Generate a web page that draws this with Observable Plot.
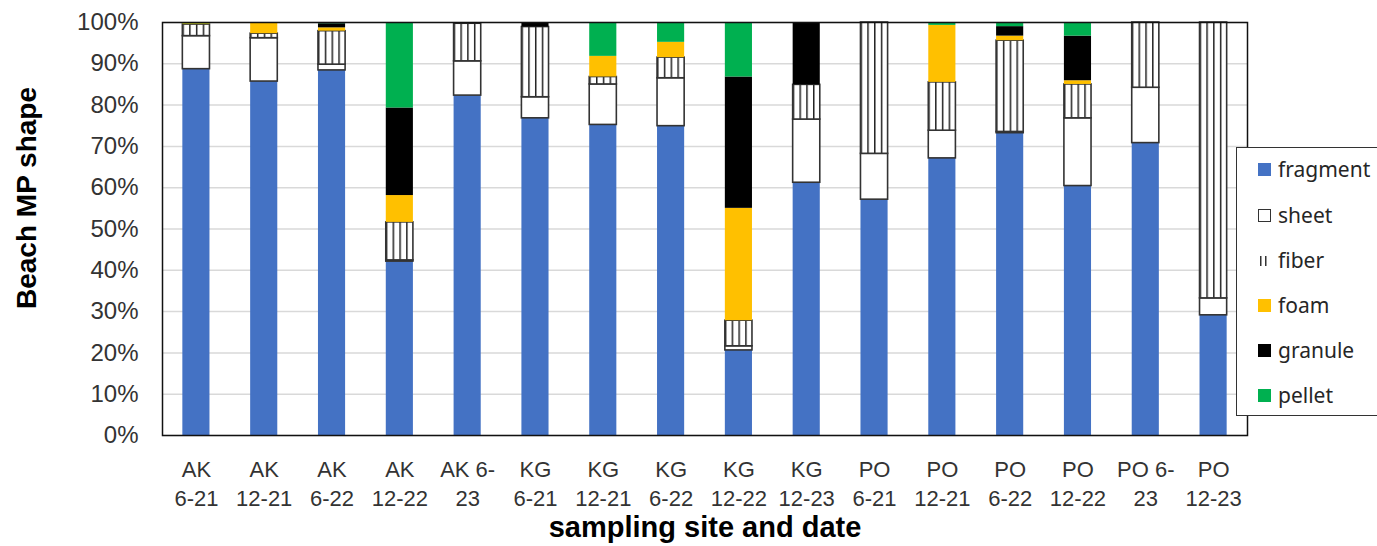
<!DOCTYPE html>
<html><head><meta charset="utf-8">
<script src="https://cdn.jsdelivr.net/npm/d3@7"></script>
<script src="https://cdn.jsdelivr.net/npm/@observablehq/plot@0.6"></script>
<style>
body{margin:0;background:#fff;font-family:"Liberation Sans",Arial,sans-serif;}
#wrap{position:relative;width:1377px;height:546px;overflow:hidden;}
#legend{position:absolute;left:1236px;top:147px;width:150px;height:269px;border:1.5px solid #333;background:#fff;box-sizing:border-box;}
.item{position:absolute;left:21px;height:26px;display:flex;align-items:center;font-size:21px;color:#262626;font-family:"Noto Sans","Liberation Sans",sans-serif;}
.sw{width:13px;height:13px;margin-right:7px;box-sizing:border-box;}
</style></head>
<body><div id="wrap"><div id="legend"></div></div>
<script>
const categories = ["AK 6-21","AK 12-21","AK 6-22","AK 12-22","AK 6-23","KG 6-21","KG 12-21","KG 6-22","KG 12-22","KG 12-23","PO 6-21","PO 12-21","PO 6-22","PO 12-22","PO 6-23","PO 12-23"];
const tickLabels = ["AK\n6-21","AK\n12-21","AK\n6-22","AK\n12-22","AK 6-\n23","KG\n6-21","KG\n12-21","KG\n6-22","KG\n12-22","KG\n12-23","PO\n6-21","PO\n12-21","PO\n6-22","PO\n12-22","PO 6-\n23","PO\n12-23"];
const shapes = ["fragment","sheet","fiber","foam","granule","pellet"];
const fragment = [88.7,85.7,88.4,42.1,82.3,76.8,75.2,74.9,20.6,61.2,57.1,67.1,73.2,60.4,70.8,29.1];
const sheet    = [8.0,10.5,1.4,0.3,8.3,5.1,9.8,11.6,1.0,15.3,11.1,6.7,0.3,16.4,13.4,4.1];
const fiber    = [2.8,1.1,8.1,9.2,9.1,17.0,1.8,5.0,6.2,8.4,31.8,11.7,22.1,8.2,15.8,66.8];
const foam     = [0.2,2.7,0.8,6.5,0,0,5.0,3.7,27.2,0,0,13.8,1.1,0.9,0,0];
const granule  = [0,0,1.0,21.2,0.3,1.1,0,0,31.8,15.1,0,0,2.3,10.8,0,0];
const pellet   = [0.3,0,0.3,20.7,0,0,8.2,4.8,13.2,0,0,0.7,1.0,3.3,0,0];
const yTicks = [0,10,20,30,40,50,60,70,80,90,100];
const colors = {fragment:"#4472C4", sheet:"#ffffff", fiber:"url(#fiberPat)", foam:"#FFC000", granule:"#000000", pellet:"#00B050"};

const series = {fragment, sheet, fiber, foam, granule, pellet};
const data = [];
categories.forEach((c, i) => shapes.forEach(s => data.push({site: c, shape: s, value: series[s][i]})));

const outlined = s => s === "sheet" || s === "fiber";

const chart = Plot.plot({
  width: 1377, height: 546,
  marginLeft: 162, marginRight: 130, marginTop: 22, marginBottom: 111,
  style: {fontFamily: '"Liberation Sans", Arial, sans-serif', background: "transparent", overflow: "visible"},
  x: {domain: categories, paddingInner: 0.6, paddingOuter: 0.3, round: false},
  y: {domain: [0, 100]},
  marks: [
    () => {
      const defs = d3.create("svg:defs");
      const p = defs.append("pattern").attr("id", "fiberPat")
        .attr("patternUnits", "objectBoundingBox").attr("x", 0).attr("y", 0)
        .attr("width", 0.25).attr("height", 1);
      p.append("rect").attr("width", 1000).attr("height", 3000).attr("fill", "#fff");
      p.append("rect").attr("x", 0).attr("width", 1.5).attr("height", 3000).attr("fill", "#222");
      return defs.node();
    },
    Plot.gridY(yTicks, {stroke: "#d9d9d9", strokeOpacity: 1, strokeWidth: 1.5}),
    Plot.barY(data, Plot.stackY({
      x: "site", y: "value", order: shapes,
      fill: d => colors[d.shape],
      stroke: d => outlined(d.shape) ? "#333333" : "none",
      strokeWidth: 1.6
    })),
    Plot.frame({stroke: "#111", strokeWidth: 1.5}),
    Plot.axisY(yTicks, {tickSize: 0, tickPadding: 24, fontSize: 24, fill: "#333", tickFormat: d => d + "%", label: null}),
    Plot.axisX({tickSize: 0, tickPadding: 21, fontSize: 22, fill: "#333", lineHeight: 1.32,
      tickFormat: d => tickLabels[categories.indexOf(d)], label: null}),
    Plot.text(["Beach MP shape"], {frameAnchor: "left", textAnchor: "middle", dx: -135, dy: -31, rotate: -90, fontSize: 28, fontWeight: "bold", fill: "#000"}),
    Plot.text(["sampling site and date"], {frameAnchor: "bottom", dy: 92, lineAnchor: "middle", fontSize: 29, fontWeight: "bold", fill: "#000"})
  ]
});
document.getElementById("wrap").prepend(chart);

const legend = document.getElementById("legend");
const rowTops = [8, 54, 99, 144, 189, 234];
shapes.forEach((s, i) => {
  const it = document.createElement("div");
  it.className = "item";
  it.style.top = rowTops[i] + "px";
  let sw;
  if (s === "fiber") {
    sw = `<svg class="sw" width="13" height="13"><rect x="2" y="2" width="1.5" height="10" fill="#333"/><rect x="7" y="2" width="1.5" height="10" fill="#333"/></svg>`;
  } else if (s === "sheet") {
    sw = `<div class="sw" style="background:#fff;border:1.5px solid #333"></div>`;
  } else {
    sw = `<div class="sw" style="background:${colors[s]}"></div>`;
  }
  it.innerHTML = sw + `<span>${s}</span>`;
  legend.appendChild(it);
});
</script>
</body></html>
